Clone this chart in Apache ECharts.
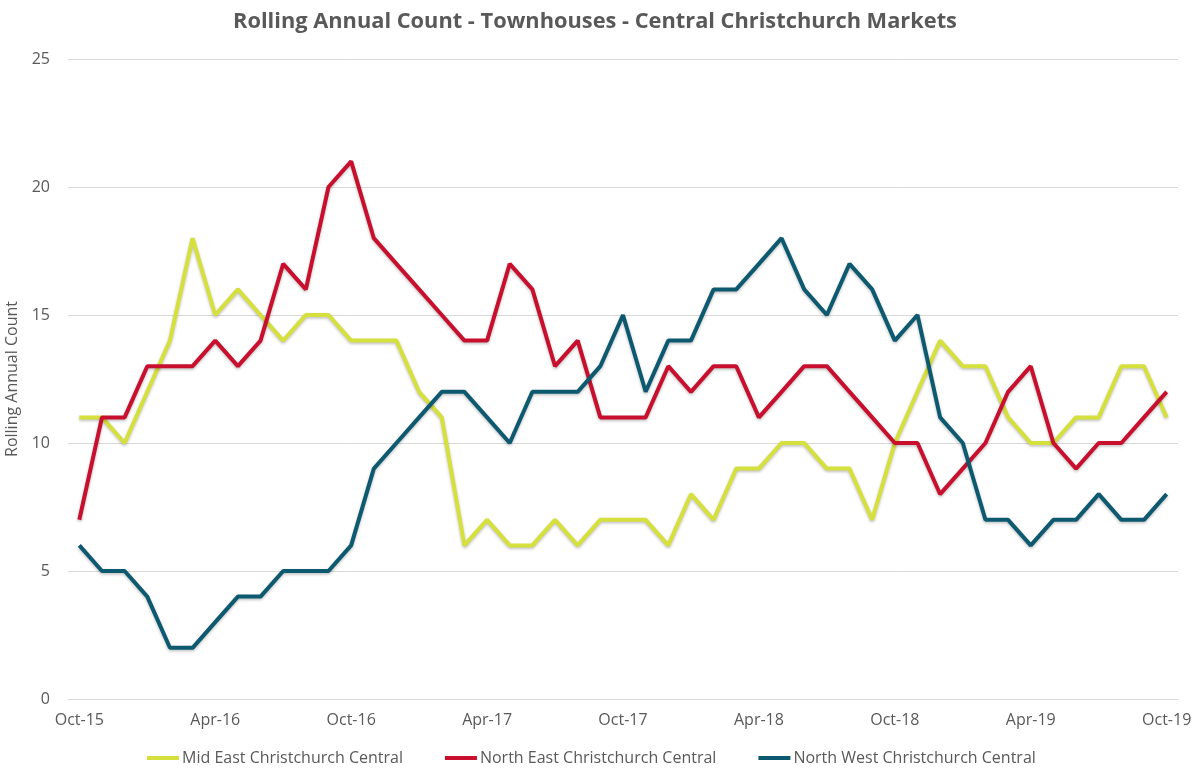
<!DOCTYPE html>
<html>
<head>
<meta charset="utf-8">
<script src="https://cdn.jsdelivr.net/npm/echarts@6/dist/echarts.min.js"></script>
<style>
html,body{margin:0;padding:0;background:#fff;}
#chart{width:1200px;height:771px;}
</style>
</head>
<body>
<div id="chart"></div>
<script>
const categories = [
  "Oct-15","Nov-15","Dec-15","Jan-16","Feb-16","Mar-16","Apr-16","May-16","Jun-16","Jul-16","Aug-16","Sep-16",
  "Oct-16","Nov-16","Dec-16","Jan-17","Feb-17","Mar-17","Apr-17","May-17","Jun-17","Jul-17","Aug-17","Sep-17",
  "Oct-17","Nov-17","Dec-17","Jan-18","Feb-18","Mar-18","Apr-18","May-18","Jun-18","Jul-18","Aug-18","Sep-18",
  "Oct-18","Nov-18","Dec-18","Jan-19","Feb-19","Mar-19","Apr-19","May-19","Jun-19","Jul-19","Aug-19","Sep-19",
  "Oct-19"
];
const midEast = [11,11,10,12,14,18,15,16,15,14,15,15,14,14,14,12,11,6,7,6,6,7,6,7,7,7,6,8,7,9,9,10,10,9,9,7,10,12,14,13,13,11,10,10,11,11,13,13,11];
const northEast = [7,11,11,13,13,13,14,13,14,17,16,20,21,18,17,16,15,14,14,17,16,13,14,11,11,11,13,12,13,13,11,12,13,13,12,11,10,10,8,9,10,12,13,10,9,10,10,11,12];
const northWest = [6,5,5,4,2,2,3,4,4,5,5,5,6,9,10,11,12,12,11,10,12,12,12,13,15,12,14,14,16,16,17,18,16,15,17,16,14,15,11,10,7,7,6,7,7,8,7,7,8];
const seriesNames = ["Mid East Christchurch Central","North East Christchurch Central","North West Christchurch Central"];
const colors = ["#d6e03c","#c8102e","#0d5a70"];
const yTicks = {min:0, max:25, interval:5};

const chart = echarts.init(document.getElementById('chart'), null, {renderer:'canvas'});
const textColor = '#595959';
const font = '"Open Sans", "Noto Sans", sans-serif';
function mk(name, data, color){
  return {
    name, type:'line', data, symbol:'none', smooth:false,
    lineStyle:{width:4, color, shadowColor:'rgba(0,0,0,0.25)', shadowBlur:3, shadowOffsetY:1.5},
    itemStyle:{color}
  };
}
chart.setOption({
  animation:false,
  backgroundColor:'#ffffff',
  title:{
    text:'Rolling Annual Count - Townhouses - Central Christchurch Markets',
    left:590, top:6, textAlign:'center',
    textStyle:{fontFamily:font, fontSize:21.8, fontWeight:'bold', color:textColor}
  },
  legend:{
    bottom:0, left:142, itemGap:42, itemWidth:32, itemHeight:4, icon:'rect',
    textStyle:{fontFamily:font, fontSize:16, color:textColor, padding:[0,0,0,-2]},
    data:seriesNames
  },
  grid:{left:68, right:22, top:59, bottom:72, containLabel:false, outerBoundsMode:'none'},
  xAxis:{
    type:'category', data:categories, boundaryGap:true,
    axisLine:{lineStyle:{color:'#d9d9d9', width:1}},
    axisTick:{show:false},
    axisLabel:{interval:5, color:textColor, fontFamily:font, fontSize:16, margin:13}
  },
  yAxis:{
    type:'value', min:yTicks.min, max:yTicks.max, interval:yTicks.interval,
    name:'Rolling Annual Count', nameLocation:'middle', nameGap:36, nameRotate:90,
    nameTextStyle:{fontFamily:font, fontSize:16, color:textColor},
    axisLine:{show:false}, axisTick:{show:false},
    axisLabel:{color:textColor, fontFamily:font, fontSize:16, margin:18},
    splitLine:{lineStyle:{color:'#d9d9d9', width:1}}
  },
  series:[
    mk(seriesNames[0], midEast, colors[0]),
    mk(seriesNames[1], northEast, colors[1]),
    mk(seriesNames[2], northWest, colors[2])
  ]
});
</script>
</body>
</html>
